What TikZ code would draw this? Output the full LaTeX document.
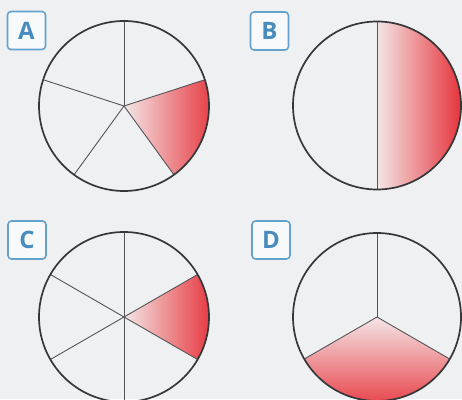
\documentclass[tikz,border=0pt]{standalone}
\usepackage{fontspec}
\setsansfont{Open Sans}
\usepackage{tikz}
\usetikzlibrary{positioning}

\definecolor{pagebg}{RGB}{238,240,242}
\definecolor{tagblue}{RGB}{100,163,205}
\definecolor{letterblue}{RGB}{72,140,190}
\definecolor{partred}{RGB}{230,52,60}
\definecolor{partlight}{RGB}{244,230,230}
\definecolor{rimgray}{RGB}{55,55,58}

\begin{document}
\begin{tikzpicture}[x=1pt, y=1pt,
    tag/.style={draw=tagblue, line width=1.6pt, rounded corners=3.5pt, fill=pagebg!40!white,
        minimum width=38pt, minimum height=38pt, inner sep=0pt,
        text=letterblue, font=\sffamily\bfseries\fontsize{24}{24}\selectfont},
    rim/.style={draw=rimgray, line width=1.7pt},
    spoke/.style={draw=rimgray!85, line width=0.9pt},
    part/.style={left color=partlight, right color=partred}
]
    \fill[pagebg] (0,0) rectangle (462,399);
    \useasboundingbox (0,0) rectangle (462,399);

    \coordinate (a) at (124,293);
    \coordinate (b) at (377,293.5);
    \coordinate (c) at (124,82);
    \coordinate (d) at (377,82);

    \node[tag] (tagA) at (26.5,368.5) {A};
    \node[tag] (tagB) at (269.5,368) {B};
    \node[tag] (tagC) at (27,159) {C};
    \node[tag] (tagD) at (271,159) {D};

    % A: fifths
    \shade[part] (a) -- ++(-54:85) arc[start angle=-54, end angle=18, radius=85] -- cycle;
    \foreach \ang in {90,162,234,306,18}
        \draw[spoke] (a) -- ++(\ang:85);
    \draw[rim] (a) circle[radius=85];

    % B: halves
    \shade[part] (b) -- ++(-90:84) arc[start angle=-90, end angle=90, radius=84] -- cycle;
    \draw[spoke] (b) ++(90:84) -- ++(0,-168);
    \draw[rim] (b) circle[radius=84];

    % C: sixths
    \shade[part] (c) -- ++(-30:85) arc[start angle=-30, end angle=30, radius=85] -- cycle;
    \foreach \ang in {30,90,150,210,270,330}
        \draw[spoke] (c) -- ++(\ang:85);
    \draw[rim] (c) circle[radius=85];

    % D: thirds
    \shade[top color=partlight, bottom color=partred]
        (d) -- ++(210:84) arc[start angle=210, end angle=330, radius=84] -- cycle;
    \foreach \ang in {90,210,330}
        \draw[spoke] (d) -- ++(\ang:84);
    \draw[rim] (d) circle[radius=84];
\end{tikzpicture}
\end{document}
